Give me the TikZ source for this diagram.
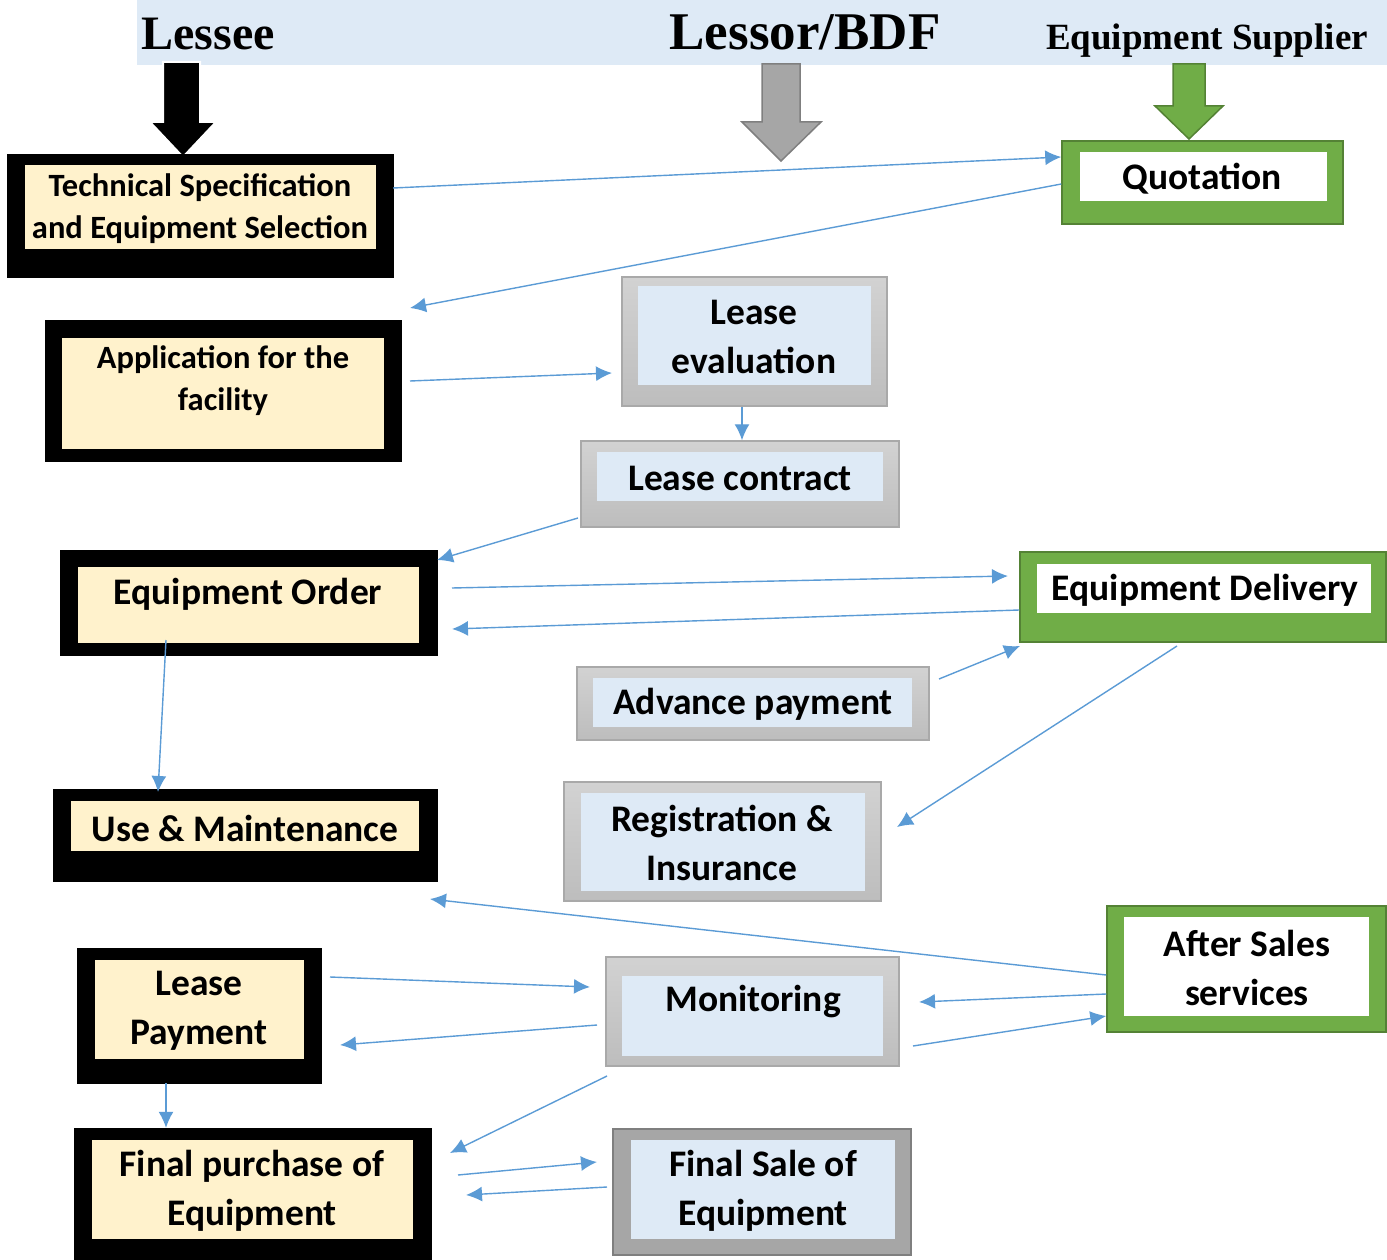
\documentclass[tikz,border=0pt]{standalone}
\usepackage{fontspec}
\setmainfont{Liberation Serif}
\newfontfamily\calfont{Carlito}
\usetikzlibrary{arrows.meta,fit}
\definecolor{cream}{HTML}{FFF2CC}
\definecolor{lblue}{HTML}{DEEAF6}
\definecolor{grn}{HTML}{70AD47}
\definecolor{dgrn}{HTML}{548235}
\definecolor{gtop}{HTML}{D2D2D2}
\definecolor{gbot}{HTML}{BDBDBD}
\definecolor{gborder}{HTML}{A9A9A9}
\definecolor{midgray}{HTML}{A6A6A6}
\definecolor{darkgray}{HTML}{7F7F7F}
\definecolor{cblue}{HTML}{5B9BD5}
\begin{document}
\begin{tikzpicture}[x=1pt,y=-1pt,
  blackouter/.style={fill=black, draw=black, inner sep=0pt},
  creamin/.style={fill=cream, inner sep=0pt},
  grayouter/.style={top color=gtop, bottom color=gbot, draw=gborder, line width=1.5pt, inner sep=0pt},
  darkouter/.style={fill=midgray, draw=darkgray, line width=2pt, inner sep=0pt},
  bluein/.style={fill=lblue, inner sep=0pt},
  greenouter/.style={fill=grn, draw=dgrn, line width=1.5pt, inner sep=0pt},
  whitein/.style={fill=white, inner sep=0pt},
  boxtxt/.style={font=\calfont\bfseries\fontsize{37.5}{49}\selectfont, align=center, inner sep=0pt},
  boxtxtsm/.style={font=\calfont\bfseries\fontsize{32.5}{42}\selectfont, align=center, inner sep=0pt},
  conn/.style={draw=cblue, line width=1.4pt, -{Latex[length=16pt,width=15pt]}},
  hdr/.style={font=\bfseries, anchor=base, inner sep=0pt}
]
\useasboundingbox (0,0) rectangle (1387,1260);
% header band
\fill[lblue] (137,0) rectangle (1387,65);
\node[hdr, font=\bfseries\fontsize{48}{48}\selectfont] (lessee) at (208,50) {Lessee};
\node[hdr, font=\bfseries\fontsize{53}{53}\selectfont] (lessor) at (805,50) {Lessor/BDF};
\node[hdr, font=\bfseries\fontsize{37}{37}\selectfont] (supplier) at (1207,50) {Equipment Supplier};
% block arrows
\filldraw[fill=black, draw=white, line width=2pt] (163,62) -- (200,62) -- (200,122) -- (216,122) -- (183,157) -- (150,122) -- (163,122) -- cycle;
\filldraw[fill=midgray, draw=darkgray, line width=1.5pt] (762,64) -- (800,64) -- (800,122) -- (821,122) -- (781,161) -- (742,122) -- (762,122) -- cycle;
\filldraw[fill=grn, draw=dgrn, line width=1.5pt] (1173,64) -- (1205,64) -- (1205,106) -- (1223,106) -- (1189,139) -- (1155,106) -- (1173,106) -- cycle;

% Lessee boxes
\node[blackouter, fit={(7,154) (393,277)}] (tech) {};
\node[creamin, fit={(25,165) (376,249)}] (techin) {};
\node[boxtxtsm] (techt) at (200,209) {Technical Specification\\and Equipment Selection};

\node[blackouter, fit={(45,320) (401,461)}] (app) {};
\node[creamin, fit={(62,338) (384,449)}] (appin) {};
\node[boxtxtsm] (appt) at (223,381) {Application for the\\facility};

\node[blackouter, fit={(60,550) (437,655)}] (order) {};
\node[creamin, fit={(78,567) (419,643)}] (orderin) {};
\node[boxtxt] (ordert) at (248,594) {Equipment Order};

\node[blackouter, fit={(53,789) (437,881)}] (use) {};
\node[creamin, fit={(71,801) (419,851)}] (usein) {};
\node[boxtxt] (uset) at (245,828) {Use \& Maintenance};

\node[blackouter, fit={(77,948) (321,1083)}] (pay) {};
\node[creamin, fit={(95,960) (304,1059)}] (payin) {};
\node[boxtxt] (payt) at (199,1011) {Lease\\Payment};

\node[blackouter, fit={(74,1128) (431,1260)}] (purch) {};
\node[creamin, fit={(92,1140) (413,1239)}] (purchin) {};
\node[boxtxt] (purcht) at (252,1191) {Final purchase of\\Equipment};

% Lessor boxes
\node[grayouter, fit={(622,277) (887,406)}] (eval) {};
\node[bluein, fit={(638,286) (871,385)}] (evalin) {};
\node[boxtxt] (evalt) at (754,337) {Lease\\evaluation};

\node[grayouter, fit={(581,441) (899,527)}] (contr) {};
\node[bluein, fit={(597,452) (883,501)}] (contrin) {};
\node[boxtxt] (contrt) at (740,478) {Lease contract};

\node[grayouter, fit={(577,667) (929,740)}] (adv) {};
\node[bluein, fit={(593,678) (912,727)}] (advin) {};
\node[boxtxt] (advt) at (753,704) {Advance payment};

\node[grayouter, fit={(564,782) (881,901)}] (reg) {};
\node[bluein, fit={(581,793) (865,891)}] (regin) {};
\node[boxtxt] (regt) at (722,843) {Registration \&\\Insurance};

\node[grayouter, fit={(606,957) (899,1066)}] (mon) {};
\node[bluein, fit={(622,976) (883,1056)}] (monin) {};
\node[boxtxt] (mont) at (753,1002) {Monitoring};

\node[darkouter, fit={(613,1129) (911,1255)}] (sale) {};
\node[bluein, fit={(631,1140) (895,1239)}] (salein) {};
\node[boxtxt] (salet) at (763,1191) {Final Sale of\\Equipment};

% Supplier boxes
\node[greenouter, fit={(1062,141) (1343,224)}] (quot) {};
\node[whitein, fit={(1080,152) (1327,201)}] (quotin) {};
\node[boxtxt] (quott) at (1202,179) {Quotation};

\node[greenouter, fit={(1020,552) (1386,642)}] (deliv) {};
\node[whitein, fit={(1037,564) (1371,613)}] (delivin) {};
\node[boxtxt] (delivt) at (1205,590) {Equipment Delivery};

\node[greenouter, fit={(1107,906) (1386,1032)}] (after) {};
\node[whitein, fit={(1124,917) (1369,1016)}] (afterin) {};
\node[boxtxt] (aftert) at (1247,968) {After Sales\\services};

% connector end points
\coordinate (b2) at (410,308);
\coordinate (c1) at (410,381);
\coordinate (c2) at (612,373);
\coordinate (e1) at (578,518);
\coordinate (e2) at (437,560);
\coordinate (f1) at (452,588);
\coordinate (f2) at (1008,576);
\coordinate (g2) at (452,629);
\coordinate (h1) at (939,679);
\coordinate (h2) at (1020,646);
\coordinate (i1) at (1177,646);
\coordinate (i2) at (897,827);
\coordinate (j1) at (166,640);
\coordinate (j2) at (158,792);
\coordinate (k2) at (430,899);
\coordinate (l1) at (330,977);
\coordinate (l2) at (590,987);
\coordinate (m1) at (597,1025);
\coordinate (m2) at (340,1045);
\coordinate (n2) at (919,1002);
\coordinate (o1) at (913,1046);
\coordinate (p1) at (607,1076);
\coordinate (p2) at (450,1153);
\coordinate (r1) at (458,1175);
\coordinate (r2) at (597,1162);
\coordinate (s1) at (607,1187);
\coordinate (s2) at (466,1195);

% connectors
\draw[conn] (tech.east |- 0,188) -- (quot.west |- 0,157);
\draw[conn] (quot.west |- 0,184) -- (b2);
\draw[conn] (c1) -- (c2);
\draw[conn] (eval.south -| 742,0) -- (contr.north -| 742,0);
\draw[conn] (e1) -- (e2);
\draw[conn] (f1) -- (f2);
\draw[conn] (deliv.west |- 0,610) -- (g2);
\draw[conn] (h1) -- (h2);
\draw[conn] (i1) -- (i2);
\draw[conn] (j1) -- (j2);
\draw[conn] (after.west |- 0,975) -- (k2);
\draw[conn] (l1) -- (l2);
\draw[conn] (m1) -- (m2);
\draw[conn] (after.west |- 0,994) -- (n2);
\draw[conn] (o1) -- (after.west |- 0,1016);
\draw[conn] (p1) -- (p2);
\draw[conn] (pay.south -| 166,0) -- (purch.north -| 166,0);
\draw[conn] (r1) -- (r2);
\draw[conn] (s1) -- (s2);
\end{tikzpicture}
\end{document}
